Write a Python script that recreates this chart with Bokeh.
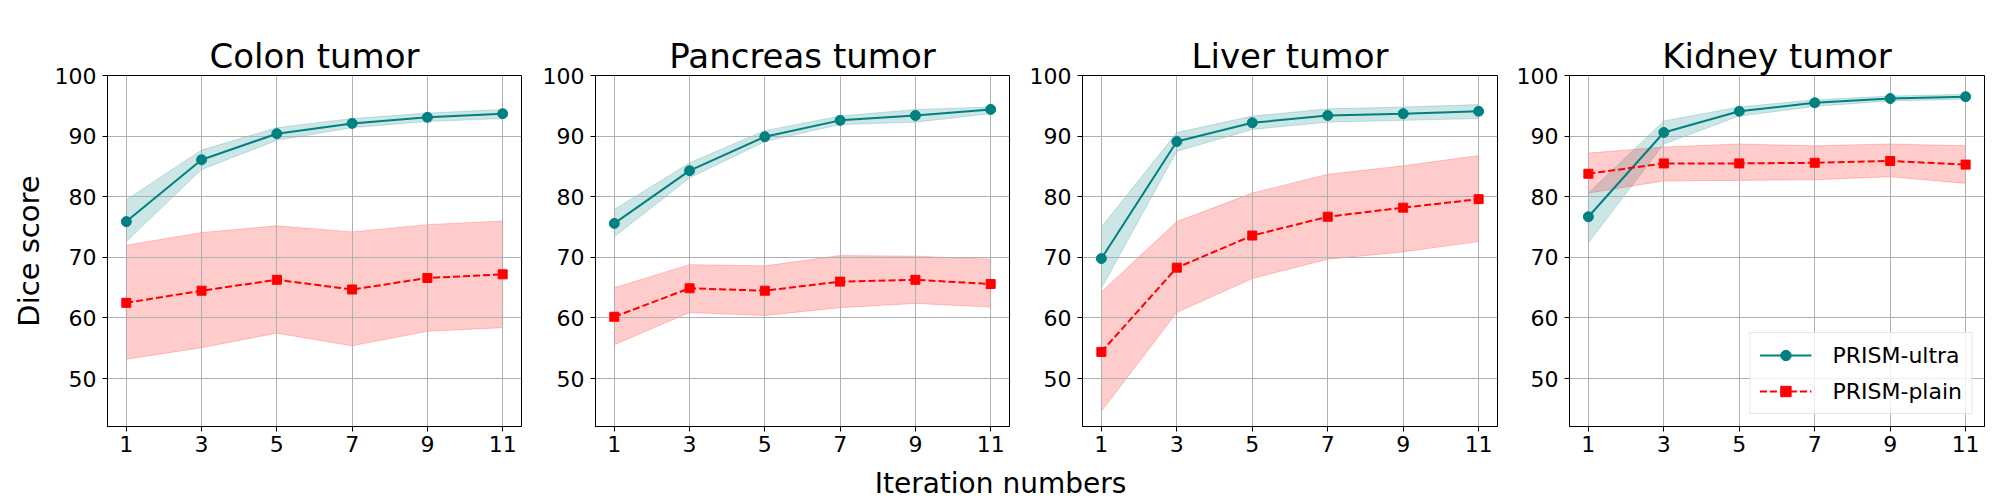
from bokeh.plotting import figure
from bokeh.models import (Range1d, FixedTicker, Legend, LegendItem, Label)
from bokeh.layouts import row, column
from bokeh.embed import file_html
from bokeh.resources import INLINE

FONT = "DejaVu Sans"

iterations = [1, 3, 5, 7, 9, 11]
titles = ["Colon tumor", "Pancreas tumor", "Liver tumor", "Kidney tumor"]
x_ticks = [1, 3, 5, 7, 9, 11]
y_ticks = [50, 60, 70, 80, 90, 100]

# PRISM-ultra mean / band, PRISM-plain mean / band
colon_ultra = [75.9, 86.1, 90.4, 92.1, 93.1, 93.7]
colon_ultra_hi = [79.5, 87.7, 91.4, 92.9, 93.8, 94.4]
colon_ultra_lo = [72.6, 84.5, 89.3, 91.4, 92.4, 92.9]
colon_plain = [62.5, 64.5, 66.3, 64.7, 66.6, 67.2]
colon_plain_hi = [72.0, 74.1, 75.2, 74.2, 75.4, 76.0]
colon_plain_lo = [53.2, 55.1, 57.5, 55.4, 57.8, 58.4]

pancreas_ultra = [75.6, 84.3, 89.9, 92.6, 93.4, 94.4]
pancreas_ultra_hi = [77.9, 85.6, 90.9, 93.3, 94.4, 94.8]
pancreas_ultra_lo = [73.4, 83.1, 89.1, 91.9, 92.3, 93.7]
pancreas_plain = [60.2, 64.9, 64.5, 66.0, 66.3, 65.6]
pancreas_plain_hi = [65.0, 68.8, 68.6, 70.3, 70.2, 69.7]
pancreas_plain_lo = [55.6, 60.9, 60.4, 61.7, 62.4, 61.8]

liver_ultra = [69.8, 89.1, 92.2, 93.4, 93.7, 94.1]
liver_ultra_hi = [75.0, 90.6, 93.3, 94.5, 94.8, 95.2]
liver_ultra_lo = [64.9, 87.5, 91.1, 92.3, 92.6, 92.9]
liver_plain = [54.4, 68.3, 73.6, 76.7, 78.2, 79.6]
liver_plain_hi = [64.3, 75.9, 80.6, 83.7, 85.1, 86.8]
liver_plain_lo = [44.6, 60.9, 66.5, 69.7, 70.9, 72.6]

kidney_ultra = [76.7, 90.6, 94.1, 95.5, 96.2, 96.5]
kidney_ultra_hi = [80.6, 92.5, 94.8, 96.0, 96.6, 96.9]
kidney_ultra_lo = [72.4, 88.7, 93.3, 94.9, 95.8, 96.1]
kidney_plain = [83.8, 85.5, 85.5, 85.6, 85.9, 85.3]
kidney_plain_hi = [87.2, 88.2, 88.7, 88.4, 88.7, 88.4]
kidney_plain_lo = [80.6, 82.6, 82.7, 82.8, 83.3, 82.2]

panels = [
    (colon_ultra, colon_ultra_hi, colon_ultra_lo, colon_plain, colon_plain_hi, colon_plain_lo),
    (pancreas_ultra, pancreas_ultra_hi, pancreas_ultra_lo, pancreas_plain, pancreas_plain_hi, pancreas_plain_lo),
    (liver_ultra, liver_ultra_hi, liver_ultra_lo, liver_plain, liver_plain_hi, liver_plain_lo),
    (kidney_ultra, kidney_ultra_hi, kidney_ultra_lo, kidney_plain, kidney_plain_hi, kidney_plain_lo),
]

TEAL = "#008080"
RED = "#ff0000"

# (left border, right border, frame width)
borders = [(107, 10, 414), (64, 10, 414), (63, 10, 415), (62, 16, 415)]
TOP, FRAME_H, BOTTOM = 75, 351, 37

figs = []
for i, (title, data) in enumerate(zip(titles, panels)):
    u, uhi, ulo, pl, phi, plo = data
    bl, br, fw = borders[i]
    p = figure(width=bl + fw + br, height=TOP + FRAME_H + BOTTOM,
               min_border_left=bl, min_border_right=br,
               min_border_top=TOP, min_border_bottom=BOTTOM,
               x_range=Range1d(0.5, 11.5), y_range=Range1d(42.1, 100),
               output_backend="svg", toolbar_location=None, title=title)
    p.title.text_font = FONT
    p.title.text_font_size = "34px"
    p.title.text_font_style = "normal"
    p.title.text_color = "black"
    p.title.align = "center"
    p.title.standoff = 0
    p.background_fill_color = "white"
    p.border_fill_color = "white"
    p.outline_line_color = "black"
    p.outline_line_width = 1
    p.outline_line_alpha = 1

    for ax in (p.xaxis[0], p.yaxis[0]):
        ax.major_label_text_font = FONT
        ax.major_label_text_font_size = "22px"
        ax.major_label_text_color = "black"
        ax.axis_line_color = "black"
        ax.major_tick_line_color = "black"
        ax.major_tick_out = 5
        ax.major_tick_in = 0
        ax.minor_tick_line_color = None
    p.xaxis[0].ticker = FixedTicker(ticks=x_ticks)
    p.yaxis[0].ticker = FixedTicker(ticks=y_ticks)
    p.xaxis[0].major_label_standoff = 4
    p.yaxis[0].major_label_standoff = 6
    if i == 0:
        p.yaxis[0].axis_label = "Dice score"
        p.yaxis[0].axis_label_text_font = FONT
        p.yaxis[0].axis_label_text_font_size = "29px"
        p.yaxis[0].axis_label_text_font_style = "normal"
        p.yaxis[0].axis_label_text_color = "black"
        p.yaxis[0].axis_label_standoff = 6

    p.xgrid.ticker = FixedTicker(ticks=x_ticks)
    p.ygrid.ticker = FixedTicker(ticks=y_ticks)
    for g in (p.xgrid[0], p.ygrid[0]):
        g.grid_line_color = "#b0b0b0"
        g.grid_line_width = 1
        g.level = "underlay"

    xs_band = list(iterations) + list(reversed(iterations))
    p.patch(xs_band, list(uhi) + list(reversed(ulo)), fill_color=TEAL, fill_alpha=0.2,
            line_color=TEAL, line_alpha=0.2, line_width=1, level="image")
    p.patch(xs_band, list(phi) + list(reversed(plo)), fill_color=RED, fill_alpha=0.2,
            line_color=RED, line_alpha=0.2, line_width=1, level="image")

    lu = p.line(iterations, u, line_color=TEAL, line_width=2)
    su = p.scatter(iterations, u, marker="circle", size=10, fill_color=TEAL, line_color=TEAL)
    lp = p.line(iterations, pl, line_color=RED, line_width=2, line_dash="7 3")
    sp = p.scatter(iterations, pl, marker="square", size=9, fill_color=RED, line_color=RED)

    if i == 3:
        legend = Legend(items=[LegendItem(label="PRISM-ultra", renderers=[lu, su]),
                               LegendItem(label="PRISM-plain", renderers=[lp, sp])],
                        location="bottom_right")
        legend.label_text_font = FONT
        legend.label_text_font_size = "22px"
        legend.label_text_color = "black"
        legend.glyph_width = 52
        legend.glyph_height = 26
        legend.label_standoff = 21
        legend.spacing = 10
        legend.padding = 9
        legend.margin = 12
        legend.border_line_color = "#cccccc"
        legend.border_line_width = 1
        legend.background_fill_alpha = 0.8
        p.add_layout(legend, "center")
    figs.append(p)

LAB_W, LAB_H = 2000, 37
lab = figure(width=LAB_W, height=LAB_H, min_border=0, title=None,
             x_range=Range1d(0, LAB_W), y_range=Range1d(0, LAB_H),
             output_backend="svg", toolbar_location=None, x_axis_type=None, y_axis_type=None)
lab.outline_line_color = None
lab.background_fill_color = "white"
lab.border_fill_color = "white"
lab.xgrid.visible = False
lab.ygrid.visible = False
lab.add_layout(Label(x=1000, y=LAB_H - 3, text="Iteration numbers", text_align="center",
                     text_baseline="top", text_font=FONT, text_font_size="28px",
                     text_color="black"))

layout = column(row(*figs), lab)
open("out.html", "w").write(file_html(layout, INLINE))
